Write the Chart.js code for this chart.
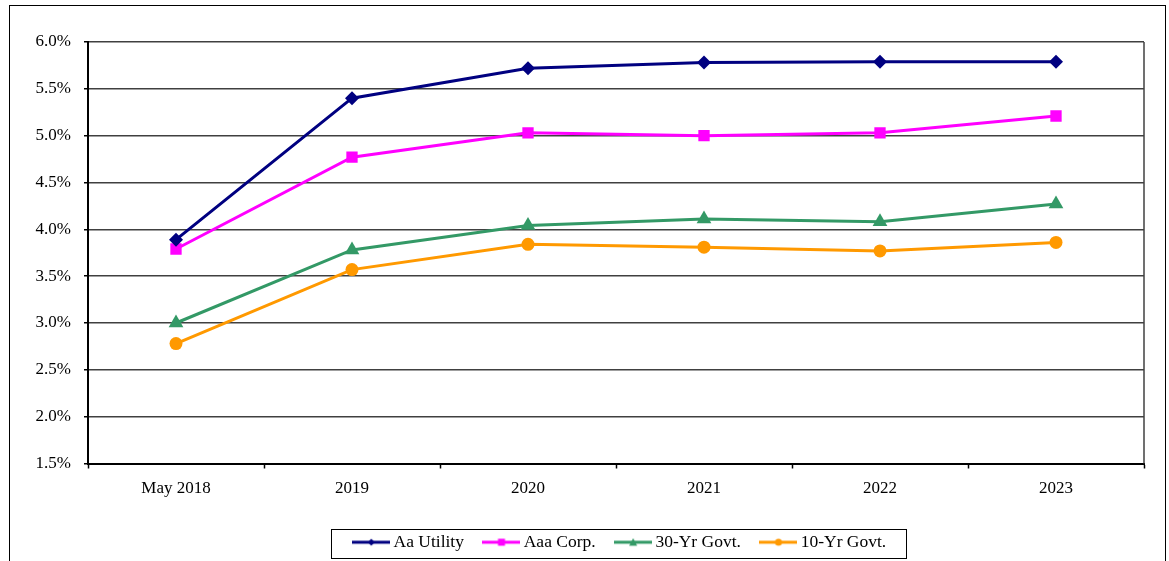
<!DOCTYPE html>
<html>
<head>
<meta charset="utf-8">
<script src="https://cdn.jsdelivr.net/npm/chart.js@4.4.1/dist/chart.umd.min.js"></script>
<style>
    html, body { margin: 0; padding: 0; background: #fff; }
    #wrap { position: relative; width: 1169px; height: 561px; }
</style>
</head>
<body>
<div id="wrap"><canvas id="yields" width="1169" height="561"></canvas></div>
<script>
'use strict';

const categories = ['May 2018', '2019', '2020', '2021', '2022', '2023'];
const aaUtility = [3.89, 5.40, 5.72, 5.78, 5.79, 5.79];
const aaaCorp = [3.79, 4.77, 5.03, 5.00, 5.03, 5.21];
const govt30 = [3.00, 3.78, 4.04, 4.11, 4.08, 4.27];
const govt10 = [2.78, 3.57, 3.84, 3.81, 3.77, 3.86];
const yTicks = { min: 1.5, max: 6.0, step: 0.5 };

const fontFamily = "'Book Antiqua', 'Palatino Linotype', 'Liberation Serif', serif";

// little line + marker picture used in the legend
function legendIcon(color, style) {
    const c = document.createElement('canvas');
    c.width = 38;
    c.height = 12;
    const ctx = c.getContext('2d');
    ctx.strokeStyle = color;
    ctx.fillStyle = color;
    ctx.lineWidth = 3;
    ctx.beginPath();
    ctx.moveTo(0, 6);
    ctx.lineTo(38, 6);
    ctx.stroke();
    ctx.beginPath();
    if (style === 'rectRot') {
        ctx.moveTo(19, 2.5); ctx.lineTo(22.5, 6); ctx.lineTo(19, 9.5); ctx.lineTo(15.5, 6);
    } else if (style === 'rect') {
        ctx.rect(15.5, 2.5, 7, 7);
    } else if (style === 'triangle') {
        ctx.moveTo(19, 2); ctx.lineTo(23, 9.5); ctx.lineTo(15, 9.5);
    } else {
        ctx.arc(19, 6, 3.5, 0, Math.PI * 2);
    }
    ctx.closePath();
    ctx.fill();
    return c;
}

function series(label, data, color, style, radius) {
    return {
        label: label,
        data: data,
        borderColor: color,
        backgroundColor: color,
        borderWidth: 3,
        pointStyle: style,
        pointRadius: radius,
        pointHoverRadius: radius,
        pointBorderWidth: 0,
        tension: 0,
        icon: legendIcon(color, style),
    };
}

const framePlugin = {
    id: 'frame',
    afterLayout(chart) {
        // centre the legend under the plot like the original
        const lg = chart.legend;
        const w = lg.width;
        lg.left = 622 - w / 2;
        lg.right = lg.left + w;
    },
    beforeDraw(chart) {
        const ctx = chart.ctx;
        ctx.save();
        ctx.fillStyle = '#fff';
        ctx.fillRect(0, 0, chart.width, chart.height);
        ctx.strokeStyle = '#000';
        ctx.lineWidth = 1;
        ctx.strokeRect(9.5, 5.5, 1156, 600);
        ctx.restore();
    },
    afterDraw(chart) {
        const ctx = chart.ctx;
        const a = chart.chartArea;
        ctx.save();
        ctx.strokeStyle = '#404040';
        ctx.lineWidth = 1.5;
        ctx.beginPath();
        ctx.moveTo(a.right, a.top);
        ctx.lineTo(a.right, a.bottom);
        ctx.stroke();
        // box round the legend
        const boxes = chart.legend.legendHitBoxes;
        if (boxes.length) {
            const first = boxes[0];
            const last = boxes[boxes.length - 1];
            const x0 = Math.round(first.left - 27) + 0.5;
            const x1 = Math.round(last.left + last.width + 20) + 0.5;
            ctx.strokeStyle = '#000';
            ctx.lineWidth = 1;
            ctx.strokeRect(x0, 529.5, x1 - x0, 29);
        }
        ctx.restore();
    }
};

new Chart(document.getElementById('yields'), {
    type: 'line',
    data: {
        labels: categories,
        datasets: [
            series('Aa Utility', aaUtility, '#000080', 'rectRot', 7),
            series('Aaa Corp.', aaaCorp, '#FF00FF', 'rect', 8),
            series('30-Yr Govt.', govt30, '#339966', 'triangle', 8.5),
            series('10-Yr Govt.', govt10, '#FF9900', 'circle', 6.5),
        ],
    },
    options: {
        responsive: false,
        animation: false,
        layout: { padding: { left: 0, right: 25, top: 42, bottom: 0 } },
        plugins: {
            tooltip: { enabled: false },
            legend: {
                position: 'bottom',
                labels: {
                    usePointStyle: true,
                    pointStyleWidth: 27,
                    padding: 24,
                    color: '#000',
                    font: { family: fontFamily, size: 17.5 },
                    generateLabels(chart) {
                        return chart.data.datasets.map((ds, i) => ({
                            text: ds.label,
                            pointStyle: ds.icon,
                            fillStyle: ds.borderColor,
                            strokeStyle: ds.borderColor,
                            lineWidth: 0,
                            hidden: false,
                            datasetIndex: i,
                            fontColor: '#000',
                        }));
                    },
                },
            },
        },
        scales: {
            x: {
                offset: true,
                grid: {
                    offset: true,
                    drawOnChartArea: false,
                    drawTicks: true,
                    tickLength: 5,
                    tickColor: '#000',
                    tickWidth: 1.5,
                },
                border: { color: '#000', width: 2 },
                ticks: {
                    color: '#000',
                    padding: 10,
                    maxRotation: 0,
                    font: { family: fontFamily, size: 17 },
                },
                afterFit(scale) { scale.height = 46; },
            },
            y: {
                min: yTicks.min,
                max: yTicks.max,
                grid: {
                    color: '#404040',
                    lineWidth: 1.5,
                    tickLength: 4,
                    tickColor: '#000',
                },
                border: { color: '#000', width: 2 },
                ticks: {
                    stepSize: yTicks.step,
                    color: '#000',
                    padding: 13,
                    font: { family: fontFamily, size: 17 },
                    callback: v => v.toFixed(1) + '%',
                },
                afterFit(scale) { scale.width = 88; },
            },
        },
    },
    plugins: [framePlugin],
});
</script>
</body>
</html>
